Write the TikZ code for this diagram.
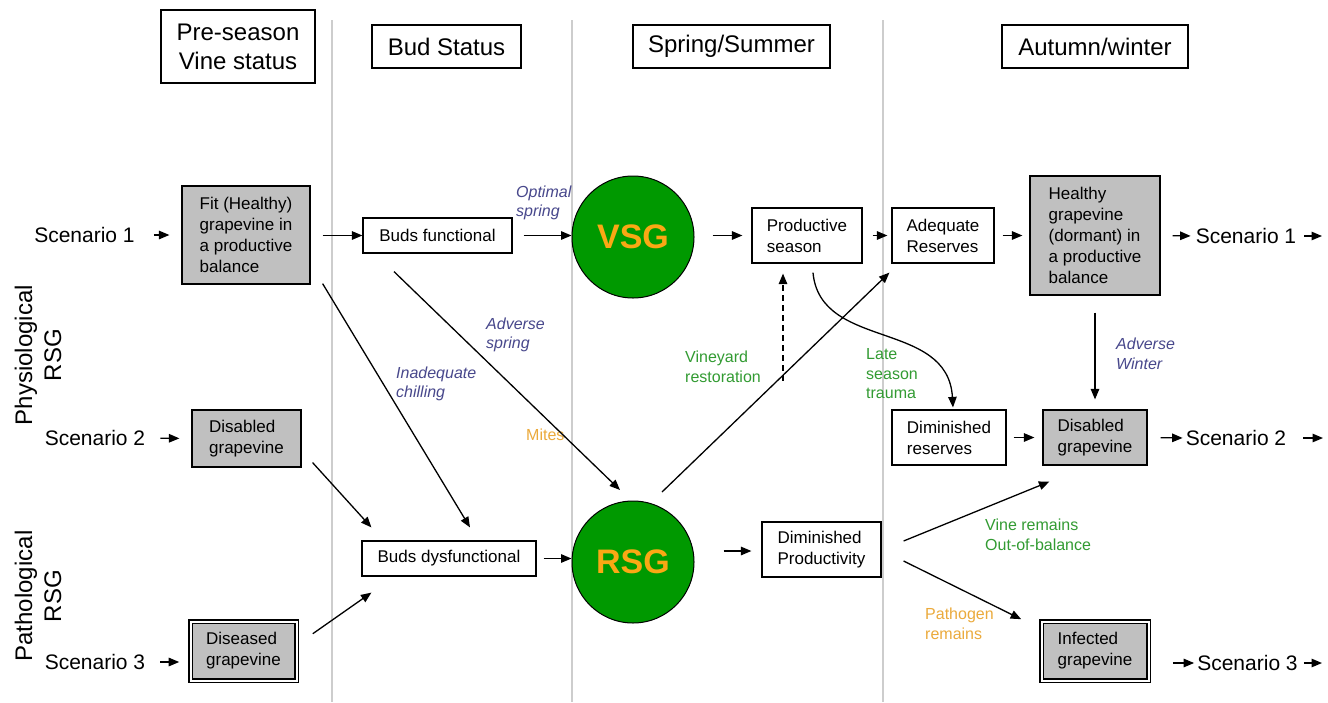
\documentclass[tikz,border=0pt]{standalone}
\usepackage{fontspec}
\setmainfont{Liberation Sans}
\usetikzlibrary{arrows.meta,calc}
\definecolor{boxgray}{RGB}{192,192,192}
\definecolor{vgreen}{RGB}{0,153,0}
\definecolor{gold}{RGB}{250,168,20}
\definecolor{lblue}{RGB}{72,72,140}
\definecolor{lgreen}{RGB}{50,155,50}
\definecolor{lorange}{RGB}{235,170,60}
\definecolor{sepgray}{RGB}{205,205,205}
\tikzset{
  box/.style={draw, line width=1.2pt, inner sep=0pt, align=left, font=\fontsize{17}{21}\selectfont},
  gbox/.style={box, fill=boxgray},
  dbox/.style={gbox, line width=1.6pt, double=white, double distance=2pt},
  hdr/.style={draw, line width=1.2pt, inner sep=0pt, align=center, font=\fontsize{24}{29}\selectfont},
  scen/.style={font=\fontsize{21}{25}\selectfont, inner sep=0pt},
  side/.style={rotate=90, align=center, inner sep=0pt, font=\fontsize{24}{29}\selectfont},
  lbl/.style={font=\fontsize{16}{19.5}\selectfont\itshape, text=lblue, align=left, inner sep=0pt, anchor=west},
  glbl/.style={font=\fontsize{16}{19.5}\selectfont, text=lgreen, align=left, inner sep=0pt, anchor=west},
  olbl/.style={font=\fontsize{16}{19.5}\selectfont, text=lorange, align=left, inner sep=0pt, anchor=west},
  circ/.style={circle, draw=black, fill=vgreen, minimum size=122pt, inner sep=0pt, line width=1pt, font=\fontsize{34}{40}\selectfont\bfseries, text=gold},
  arr/.style={-{Triangle[length=10.5pt,width=8.5pt]}, line width=1.3pt},
  sep/.style={sepgray, line width=1.2pt},
}
\begin{document}
\begin{tikzpicture}[x=1pt,y=-1pt]
\useasboundingbox (0,0) rectangle (1328,702);
\fill[white] (0,0) rectangle (1328,702);

% separators
\draw[sep] (332,20) -- (332,702);
\draw[sep] (572,20) -- (572,702);
\draw[sep] (883,20) -- (883,702);

% headers
\node[hdr, minimum width=154pt, minimum height=73pt] (h1) at (238,46.5) {Pre-season\\Vine status};
\node[hdr, minimum width=149pt, minimum height=43pt] (h2) at (446.5,46.5) {Bud Status};
\node[hdr, minimum width=197pt, minimum height=43pt] (h3) at (731.5,46.5) {Spring/Summer};
\node[hdr, minimum width=186pt, minimum height=43pt] (h4) at (1095,46.5) {Autumn/winter};

% side labels
\node[side] (phys) at (38,355) {Physiological\\RSG};
\node[side] (path) at (38,596) {Pathological\\RSG};

% left scenarios
\node[scen] (sc1) at (84.5,235) {Scenario 1};
\node[scen] (sc2) at (95,438) {Scenario 2};
\node[scen] (sc3) at (95,662) {Scenario 3};

% boxes
\node[gbox, minimum width=128pt, minimum height=98pt] (fit) at (246,235) {Fit (Healthy)\\grapevine in\\a productive\\balance};
\node[gbox, minimum width=109pt, minimum height=57pt] (dis1) at (246.5,438.5) {Disabled\\grapevine};
\node[dbox, minimum width=106pt, minimum height=59pt] (dis3) at (243.5,651) {Diseased\\grapevine};
\node[box, minimum width=149pt, minimum height=35pt] (budf) at (437.5,235.5) {Buds functional};
\node[box, minimum width=174pt, minimum height=35pt] (buddys) at (449,558.5) {Buds dysfunctional};
\node[circ] (vsg) at (633,237) {VSG};
\node[circ] (rsg) at (633,562) {RSG};
\node[box, minimum width=110pt, minimum height=55pt] (prod) at (807,235.5) {Productive\\season};
\node[box, minimum width=102pt, minimum height=55pt] (adeq) at (943,235.5) {Adequate\\Reserves};
\node[gbox, minimum width=130pt, minimum height=119pt] (healthy) at (1095,235.5) {Healthy\\grapevine\\(dormant) in\\a productive\\balance};
\node[box, minimum width=114pt, minimum height=55pt] (dimr) at (949,437.5) {Diminished\\reserves};
\node[gbox, minimum width=104pt, minimum height=55pt] (dis2) at (1095,437.5) {Disabled\\grapevine};
\node[box, minimum width=119pt, minimum height=55pt] (dimp) at (821.5,549.5) {Diminished\\Productivity};
\node[dbox, minimum width=107pt, minimum height=59pt] (inf) at (1095,651) {Infected\\grapevine};

% right scenarios
\node[scen] (sc1r) at (1246,236) {Scenario 1};
\node[scen] (sc2r) at (1236,438) {Scenario 2};
\node[scen] (sc3r) at (1247.5,663) {Scenario 3};
\coordinate (e1) at (1322,236);
\coordinate (e2) at (1323,438);
\coordinate (e3) at (1322,663);

% labels
\node[lbl] (optl) at (516,203) {Optimal\\spring};
\node[lbl] (advl) at (486,335) {Adverse\\spring};
\node[lbl] (inadl) at (396,384) {Inadequate\\chilling};
\node[olbl] (mitl) at (526,435) {Mites};
\node[glbl] (vinl) at (685,367) {Vineyard\\restoration};
\node[glbl] (latel) at (866,374) {Late\\season\\trauma};
\node[lbl] (awl) at (1116,354) {Adverse\\Winter};
\node[glbl] (vrl) at (985,535) {Vine remains\\Out-of-balance};
\node[olbl] (pathl) at (925,624) {Pathogen\\remains};

% connectors
\draw[arr, shorten <=19pt, shorten >=12pt] (sc1.east) -- (fit.west);
\draw[arr, shorten <=15pt, shorten >=12pt] (sc2.east) -- (dis1.west);
\draw[arr, shorten <=15pt, shorten >=10.5pt] (sc3.east) -- (dis3.west |- sc3.east);
\draw[arr, shorten <=12pt] (fit.east |- budf.west) -- (budf.west);
\draw[arr, shorten <=11pt] (budf.east) -- (budf.east -| vsg.west);
\draw[arr, shorten <=18pt, shorten >=9pt] (vsg.east |- prod.west) -- (prod.west);
\draw[arr, shorten <=10pt, shorten >=4pt] (prod.east) -- (adeq.west);
\draw[arr, shorten <=8pt, shorten >=7pt] (adeq.east) -- (healthy.west);
\draw[arr, shorten <=12pt, shorten >=5pt] (healthy.east) -- (sc1r.west);
\draw[arr, shorten <=8pt] (sc1r.east) -- (e1);

\draw[arr] ($(budf.south)+(-43.5,18)$) -- ($(rsg.center)+(-13,-72)$);
\draw[arr] ($(fit.south east)+(12,-1)$) -- ($(buddys.north)+(21,-13)$);
\draw[arr] ($(dis1.south east)+(11,-5)$) -- ($(buddys.north west)+(10,-13)$);
\draw[arr] ($(dis3.north east)+(15.5,13)$) -- ($(buddys.south west)+(10,16)$);
\draw[arr, shorten <=7pt] (buddys.east) -- (buddys.east -| rsg.west);

\draw[arr] ($(rsg.center)+(29,-70)$) -- ($(adeq.south west)+(-2,9)$);
\draw[arr] ($(rsg.east)+(29,-11)$) -- ($(dimp.west)+(-10,1.5)$);
\draw[arr, dash pattern=on 6pt off 4pt] ($(prod.south)+(-24,117)$) -- ($(prod.south)+(-24,10)$);
\draw[arr] ($(prod.south)+(6,9)$) .. controls ($(prod.south)+(13,87)$) and ($(dimr.north)+(-1,-90)$) .. ($(dimr.north)+(4,-2)$);

\draw[arr, shorten <=7pt, shorten >=8pt] (dimr.east) -- (dis2.west);
\draw[arr, shorten <=17pt, shorten >=10pt] (healthy.south) -- (dis2.north);
\draw[arr, shorten <=13pt, shorten >=3pt] (dis2.east) -- (sc2r.west);
\draw[arr, shorten <=17pt] (sc2r.east) -- (e2);

\draw[arr] ($(dimp.east)+(22,-8.5)$) -- ($(dis2.south west)+(7,16)$);
\draw[arr] ($(dimp.east)+(22,11.5)$) -- ($(inf.north west)+(-19.5,-1.5)$);
\draw[arr, shorten <=23.5pt, shorten >=3pt] (inf.east |- sc3r.west) -- (sc3r.west);
\draw[arr, shorten <=6pt] (sc3r.east) -- (e3);
\end{tikzpicture}
\end{document}
